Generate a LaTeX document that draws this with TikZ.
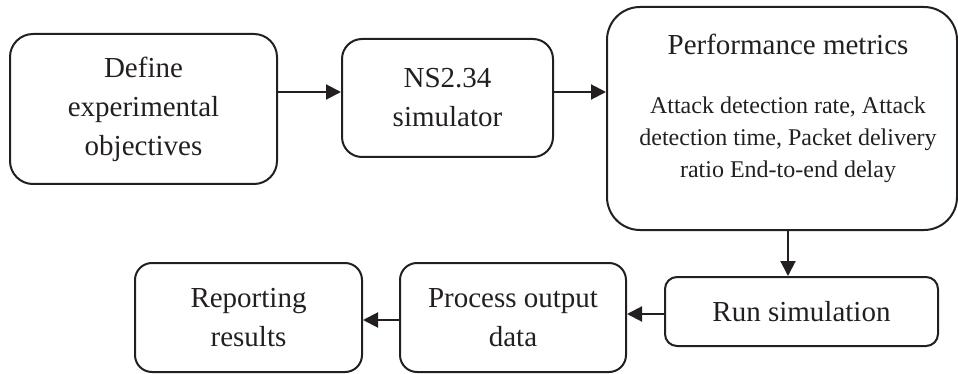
\documentclass[tikz,border=0pt]{standalone}
\usepackage{fontspec}
\setmainfont{Liberation Serif}
\usetikzlibrary{arrows.meta}
\definecolor{ink}{HTML}{231F20}
\begin{document}
\begin{tikzpicture}[x=1pt,y=-1pt,
  box/.style={draw=ink, line width=2pt, rectangle, rounded corners=#1,
    inner sep=0pt, align=center, text=ink,
    font=\fontsize{29}{39}\selectfont},
  box/.default=18pt,
  label/.style={inner sep=0pt, align=center, text=ink},
  flow/.style={draw=ink, line width=2pt, -{Triangle[length=15pt,width=15pt]}},
  ]
\useasboundingbox (0,0) rectangle (958,374);

% top row
\node[box=23pt, minimum width=267pt, minimum height=150pt] (define) at (143.5,109)
  {Define\\experimental\\objectives};
\node[box=20pt, minimum width=211pt, minimum height=118pt] (ns) at (447.5,98)
  {NS2.34\\simulator};
\node[box=33pt, minimum width=350pt, minimum height=223pt] (perf) at (782,118.5) {};
\node[label, anchor=base, font=\fontsize{29}{39}\selectfont] (perftitle) at (788,55)
  {Performance metrics};
\node[label, anchor=north, font=\fontsize{24}{32}\selectfont] (perfbody) at (788,97)
  {Attack detection rate, Attack\\detection time, Packet delivery\\ratio End-to-end delay};

% bottom row
\node[box=12pt, minimum width=273pt, minimum height=69pt] (run) at (801.5,311.5)
  {Run simulation};
\node[box=17pt, minimum width=226pt, minimum height=109pt] (process) at (513,317.5)
  {Process output\\data};
\node[box=17pt, minimum width=227pt, minimum height=109pt] (report) at (248.5,317.5)
  {Reporting\\results};

% connector levels
\coordinate (rowA) at (0,92);
\coordinate (colB) at (788,0);
\coordinate (rowC) at (0,314);
\coordinate (rowD) at (0,320);

\draw[flow] (define.east |- rowA) -- (ns.west |- rowA);
\draw[flow] (ns.east |- rowA) -- (perf.west |- rowA);
\draw[flow] (perf.south -| colB) -- (run.north -| colB);
\draw[flow] (run.west |- rowC) -- (process.east |- rowC);
\draw[flow] (process.west |- rowD) -- (report.east |- rowD);
\end{tikzpicture}
\end{document}
